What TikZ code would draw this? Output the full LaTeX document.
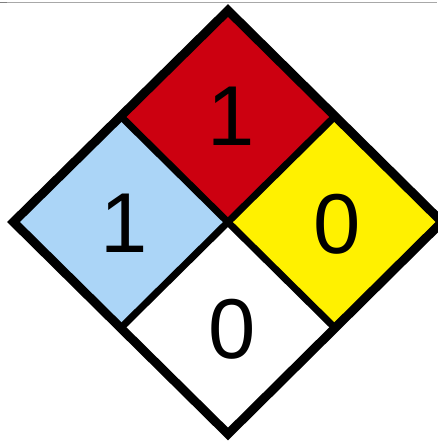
\documentclass[tikz,border=0pt]{standalone}
\usepackage{fontspec}
\setmainfont{Liberation Sans}
\usetikzlibrary{calc}
\definecolor{hzred}{HTML}{CC0010}
\definecolor{hzblue}{HTML}{ABD5F7}
\definecolor{hzyellow}{HTML}{FFF100}
\definecolor{topline}{HTML}{A8A8A8}
\begin{document}
\begin{tikzpicture}[x=1pt,y=-1pt,
  outerline/.style={line width=9pt,line join=miter,miter limit=10},
  innerline/.style={line width=7pt},
  digit/.style={inner sep=0pt,font=\fontsize{85}{85}\selectfont}]
\useasboundingbox (0,0) rectangle (438,442);
\fill[white] (0,0) rectangle (438,442);
\draw[topline,line width=1.2pt] (0,2.5) -- (437,2.5);
\draw[gray,line width=1.2pt] (0,2.5) -- (7,2.5);
\coordinate (T) at (228,10.5);
\coordinate (L) at (13.5,222);
\coordinate (R) at (442,222);
\coordinate (B) at (228,434);
\coordinate (C) at (228,222);
\coordinate (TL) at ($(T)!0.5!(L)$);
\coordinate (TR) at ($(T)!0.5!(R)$);
\coordinate (BL) at ($(B)!0.5!(L)$);
\coordinate (BR) at ($(B)!0.5!(R)$);
\fill[hzred] (T) -- (TR) -- (C) -- (TL) -- cycle;
\fill[hzblue] (TL) -- (C) -- (BL) -- (L) -- cycle;
\fill[hzyellow] (TR) -- (R) -- (BR) -- (C) -- cycle;
\fill[white] (C) -- (BR) -- (B) -- (BL) -- cycle;
\draw[innerline] (TL) -- (BR);
\draw[innerline] (TR) -- (BL);
\draw[outerline] (T) -- (R) -- (B) -- (L) -- cycle;
\node[digit] (health) at (124,223) {1};
\node[digit] (fire) at (231,116) {1};
\node[digit] (react) at (337,224) {0};
\node[digit] (special) at (232,329) {0};
\end{tikzpicture}
\end{document}
